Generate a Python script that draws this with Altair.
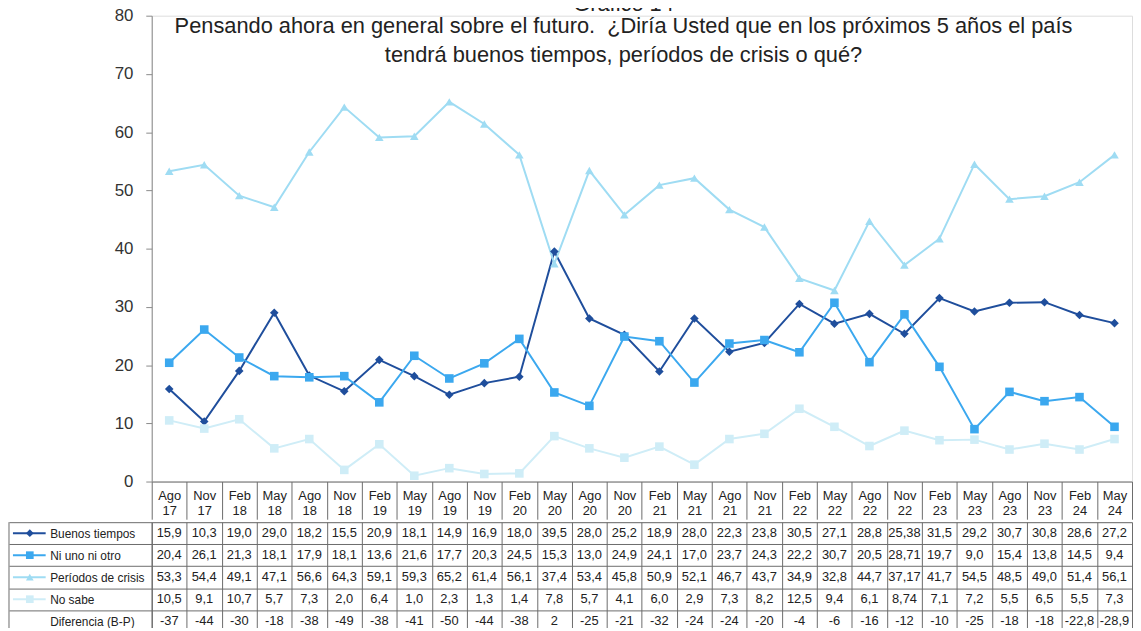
import altair as alt
import pandas as pd

periods = ["Ago 17", "Nov 17", "Feb 18", "May 18", "Ago 18", "Nov 18", "Feb 19", "May 19",
           "Ago 19", "Nov 19", "Feb 20", "May 20", "Ago 20", "Nov 20", "Feb 21", "May 21",
           "Ago 21", "Nov 21", "Feb 22", "May 22", "Ago 22", "Nov 22", "Feb 23", "May 23",
           "Ago 23", "Nov 23", "Feb 24", "May 24"]
buenos = [15.9, 10.3, 19.0, 29.0, 18.2, 15.5, 20.9, 18.1, 14.9, 16.9, 18.0, 39.5, 28.0, 25.2,
          18.9, 28.0, 22.3, 23.8, 30.5, 27.1, 28.8, 25.38, 31.5, 29.2, 30.7, 30.8, 28.6, 27.2]
ni_uno = [20.4, 26.1, 21.3, 18.1, 17.9, 18.1, 13.6, 21.6, 17.7, 20.3, 24.5, 15.3, 13.0, 24.9,
          24.1, 17.0, 23.7, 24.3, 22.2, 30.7, 20.5, 28.71, 19.7, 9.0, 15.4, 13.8, 14.5, 9.4]
crisis = [53.3, 54.4, 49.1, 47.1, 56.6, 64.3, 59.1, 59.3, 65.2, 61.4, 56.1, 37.4, 53.4, 45.8,
          50.9, 52.1, 46.7, 43.7, 34.9, 32.8, 44.7, 37.17, 41.7, 54.5, 48.5, 49.0, 51.4, 56.1]
no_sabe = [10.5, 9.1, 10.7, 5.7, 7.3, 2.0, 6.4, 1.0, 2.3, 1.3, 1.4, 7.8, 5.7, 4.1,
           6.0, 2.9, 7.3, 8.2, 12.5, 9.4, 6.1, 8.74, 7.1, 7.2, 5.5, 6.5, 5.5, 7.3]
diferencia = [-37, -44, -30, -18, -38, -49, -38, -41, -50, -44, -38, 2, -25, -21,
              -32, -24, -24, -20, -4, -6, -16, -12, -10, -25, -18, -18, -22.8, -28.9]

series_names = ["Buenos tiempos", "Ni uno ni otro", "Períodos de crisis", "No sabe"]
row_names = series_names + ["Diferencia (B-P)"]
series_colors = ["#1f4e9c", "#3ba8ef", "#9fdcf3", "#cfedf7"]
series_shapes = ["diamond", "square", "triangle-up", "square"]

title_lines = ["Gráfico 14",
               "Pensando ahora en general sobre el futuro.\u00a0 ¿Diría Usted que en los próximos 5 años el país",
               "tendrá buenos tiempos, períodos de crisis o qué?"]

FONT = "Liberation Sans"
LINE = "#6b6b6b"

all_series = [buenos, ni_uno, crisis, no_sabe]
long_rows = []
for name, vals in zip(series_names, all_series):
    for p, v in zip(periods, vals):
        long_rows.append({"period": p, "serie": name, "valor": v})
df = pd.DataFrame(long_rows)

table_rows = []
for name, vals in zip(row_names, all_series + [diferencia]):
    for p, v in zip(periods, vals):
        table_rows.append({"period": p, "fila": name, "txt": str(v).replace(".", ",")})
tdf = pd.DataFrame(table_rows)

color_scale = alt.Scale(domain=series_names, range=series_colors)
shape_scale = alt.Scale(domain=series_names, range=series_shapes)

W = 989
H = 470

x_main = alt.X("period:N", sort=periods,
               scale=alt.Scale(type="band", domain=periods, paddingInner=0, paddingOuter=0),
               axis=alt.Axis(title=None, labelExpr="split(datum.label, ' ')", labelAngle=0,
                             labelFontSize=13, labelColor="#222", labelBaseline="top",
                             labelPadding=-30, labelLineHeight=15, tickBand="extent",
                             tickSize=38, tickColor=LINE, domainColor=LINE, labelFont=FONT))
y_main = alt.Y("valor:Q", scale=alt.Scale(domain=[0, 80], nice=False),
               axis=alt.Axis(values=list(range(0, 81, 10)), title=None, grid=False,
                             labelFontSize=17, labelColor="#333", tickSize=6, labelPadding=13,
                             domainColor="#8a8a8a", tickColor="#8a8a8a", labelFont=FONT))

base = alt.Chart(df)
lines = base.mark_line(strokeWidth=2).encode(
    x=x_main, y=y_main,
    color=alt.Color("serie:N", scale=color_scale, legend=None),
    detail="serie:N",
)
points = base.mark_point(filled=True, size=75, opacity=1).encode(
    x=x_main, y=y_main,
    color=alt.Color("serie:N", scale=color_scale, legend=None),
    shape=alt.Shape("serie:N", scale=shape_scale, legend=None),
)

tit = pd.DataFrame({"t": title_lines, "k": [0, 1, 2]})
title_layers = []
for i, ypos in zip(range(3), [-12, 10, 40]):
    title_layers.append(
        alt.Chart(tit[tit.k == i]).mark_text(fontSize=22, font=FONT, color="#222",
                                             baseline="middle", align="center").encode(
            text="t:N", x=alt.value(476), y=alt.value(ypos))
    )

spacer = alt.Chart(tit.head(1)).mark_rule(opacity=0).encode(
    x=alt.value(-144), y=alt.value(0), y2=alt.value(5))

main = alt.layer(lines, points, *title_layers, spacer).properties(width=W, height=H)

# ---- table ----
TH = 111
x_tab = alt.X("period:N", sort=periods,
              scale=alt.Scale(type="band", domain=periods, paddingInner=0, paddingOuter=0),
              axis=alt.Axis(title=None, labels=False, ticks=False, domain=False, grid=True,
                            tickBand="extent", gridColor=LINE, gridOpacity=1))
y_tab = alt.Y("fila:N", sort=row_names,
              scale=alt.Scale(type="band", domain=row_names, paddingInner=0, paddingOuter=0),
              axis=alt.Axis(title=None, tickBand="extent", tickSize=144, labelAlign="left",
                            labelPadding=-41, labelFontSize=12, labelColor="#222",
                            labelFont=FONT, domainColor=LINE, tickColor=LINE, grid=True,
                            gridColor=LINE, gridOpacity=1))

cells = alt.Chart(tdf).mark_text(fontSize=13, font=FONT, color="#222").encode(
    x=x_tab, y=y_tab, text="txt:N")

leg = pd.DataFrame({"fila": series_names, "serie": series_names})
leg_line = alt.Chart(leg).mark_rule(strokeWidth=2).encode(
    x=alt.value(-140), x2=alt.value(-107), y=y_tab,
    color=alt.Color("serie:N", scale=color_scale, legend=None))
leg_pt = alt.Chart(leg).mark_point(filled=True, size=60, opacity=1).encode(
    x=alt.value(-123), y=y_tab,
    color=alt.Color("serie:N", scale=color_scale, legend=None),
    shape=alt.Shape("serie:N", scale=shape_scale, legend=None))
border = alt.Chart(tit.head(1)).mark_rule(color=LINE, strokeWidth=1).encode(
    x=alt.value(-144), y=alt.value(0), y2=alt.value(TH))

table = alt.layer(cells, leg_line, leg_pt, border).properties(width=W, height=TH)

chart = alt.vconcat(main, table, spacing=-5).properties(
    padding={"left": 0, "top": -19, "right": 0, "bottom": -8}
).configure_view(stroke=None).configure(font=FONT)

chart.save("out.html", embed_options={"renderer": "svg", "actions": False})
